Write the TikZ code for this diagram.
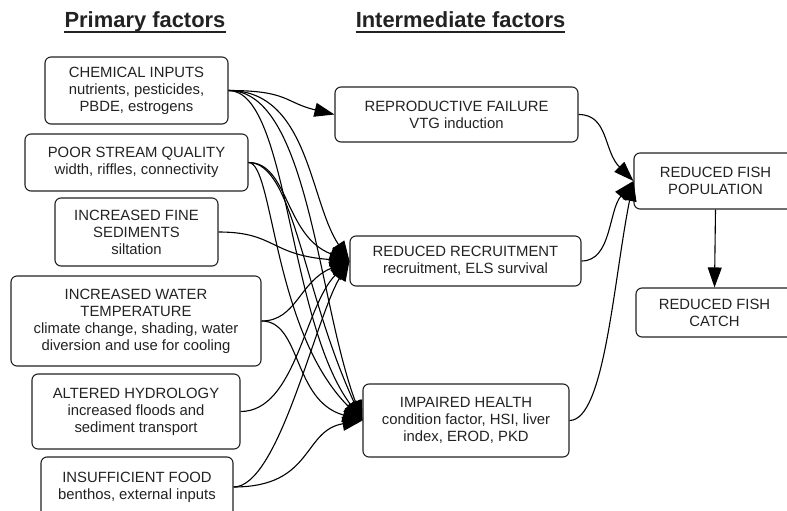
\documentclass[tikz,border=0pt]{standalone}
\usepackage{fontspec}
\setmainfont{Liberation Sans}
\usetikzlibrary{arrows.meta}
\definecolor{ink}{HTML}{222222}
\begin{document}
\begin{tikzpicture}[x=1bp,y=-1bp]
\tikzstyle{box}=[draw=ink,text=ink,rounded corners=6bp,line width=1.1bp,align=center,inner sep=0pt,
  font=\fontsize{14.9}{17}\selectfont];
\tikzstyle{head}=[text=ink,inner sep=0pt,anchor=base,font=\fontsize{22}{24}\selectfont\bfseries];
\tikzstyle{arr}=[line width=1.1bp,-{Triangle[length=20bp,width=14bp]}];
\useasboundingbox (0,0) rectangle (787,511);
\clip (0,0) rectangle (787,511);
% headings
\path (145,28) node[head] (prim) {Primary factors};
\path (460.5,28) node[head] (inter) {Intermediate factors};
\draw[ink,line width=2bp] ([yshift=-4.5bp]prim.base west) -- ([yshift=-4.5bp]prim.base east);
\draw[ink,line width=2bp] ([yshift=-4.5bp]inter.base west) -- ([yshift=-4.5bp]inter.base east);
% primary factors
\path (136.5,90.5) node[box,minimum width=183bp,minimum height=67bp] (chem)
  {CHEMICAL INPUTS\\nutrients, pesticides,\\PBDE, estrogens};
\path (136.5,162.5) node[box,minimum width=223bp,minimum height=57bp] (stream)
  {POOR STREAM QUALITY\\width, riffles, connectivity};
\path (136.5,232) node[box,minimum width=163bp,minimum height=68bp] (sed)
  {INCREASED FINE\\SEDIMENTS\\siltation};
\path (136,321) node[box,minimum width=250bp,minimum height=90bp] (temp)
  {INCREASED WATER\\TEMPERATURE\\climate change, shading, water\\diversion and use for cooling};
\path (136,411.5) node[box,minimum width=208bp,minimum height=75bp] (hydro)
  {ALTERED HYDROLOGY\\increased floods and\\sediment transport};
\path (137,487) node[box,minimum width=192bp,minimum height=60bp] (food)
  {INSUFFICIENT FOOD\\benthos, external inputs};
% intermediate factors
\path (456.5,114.5) node[box,minimum width=243bp,minimum height=55bp] (repro)
  {REPRODUCTIVE FAILURE\\VTG induction};
\path (465.5,261) node[box,minimum width=231bp,minimum height=50bp] (recruit)
  {REDUCED RECRUITMENT\\recruitment, ELS survival};
\path (466,420.5) node[box,minimum width=206bp,minimum height=73bp] (health)
  {IMPAIRED HEALTH\\condition factor, HSI, liver\\index, EROD, PKD};
% outcomes
\path (715.5,181) node[box,minimum width=163bp,minimum height=56bp] (pop)
  {REDUCED FISH\\POPULATION};
\path (714.5,312.5) node[box,minimum width=157bp,minimum height=49bp] (catch)
  {REDUCED FISH\\CATCH};
% links
\draw[arr] (chem.east) .. controls +(60,0) and +(-50,-12) .. (repro.west);
\draw[arr] (chem.east) .. controls +(80,0) and +(-40,-60) .. (recruit.west);
\draw[arr] (chem.east) .. controls +(80,0) and +(-45,-120) .. (health.west);
\draw[arr] (chem.east) .. controls +(60,0) and +(-75,-100) .. (health.west);
\draw[arr] (stream.east) .. controls +(40,0) and +(-65,-25) .. (recruit.west);
\draw[arr] (stream.east) .. controls +(45,0) and +(-60,-130) .. (health.west);
\draw[arr] (stream.east) .. controls +(25,0) and +(-90,-90) .. (health.west);
\draw[arr] (sed.east) .. controls +(57,0) and +(-80,-6) .. (recruit.west);
\draw[arr] (temp.east) .. controls +(35,0) and +(-50,20) .. (recruit.west);
\draw[arr] (temp.east) .. controls +(40,0) and +(-70,-20) .. (health.west);
\draw[arr] (hydro.east) .. controls +(55,0) and +(-45,45) .. (recruit.west);
\draw[arr] (food.east) .. controls +(45,0) and +(-35,60) .. (recruit.west);
\draw[arr] (food.east) .. controls +(80,0) and +(-60,10) .. (health.west);
\draw[arr] (repro.east) .. controls +(30,0) and +(-30,-30) .. (pop.west);
\draw[arr] (recruit.east) .. controls +(30,0) and +(-25,30) .. (pop.west);
\draw[arr] (health.east) .. controls +(35,0) and +(-20,100) .. (pop.west);
\draw[arr] (pop.south) -- (catch.north);
\end{tikzpicture}
\end{document}
